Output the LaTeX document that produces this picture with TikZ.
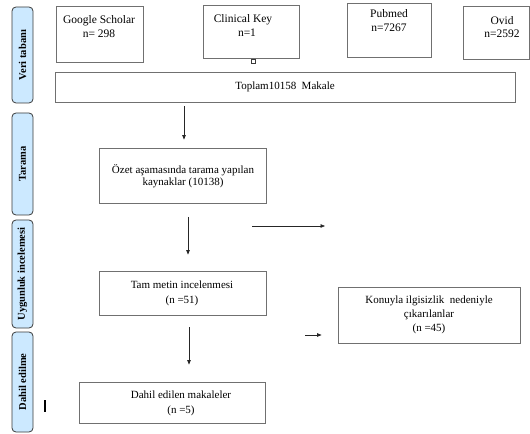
\documentclass[tikz,border=0pt]{standalone}
\usepackage{fontspec}
\setmainfont{Liberation Serif}
\usetikzlibrary{arrows.meta}
\definecolor{boxgray}{HTML}{707070}
\definecolor{sidegray}{HTML}{3A3A3A}
\definecolor{sideblue}{HTML}{CCE9FF}
\begin{document}
\begin{tikzpicture}[x=1bp,y=-1bp,
 box/.style={draw=boxgray, line width=0.8bp, inner sep=0pt},
 side/.style={draw=sidegray, fill=sideblue, rounded corners=4bp, line width=0.8bp, inner sep=0pt, rotate=90, minimum height=21bp, font=\fontsize{10.5bp}{12bp}\selectfont\bfseries},
 txt/.style={align=center, inner sep=0pt},
 arr/.style={draw=black!85, line width=0.7bp, -{Triangle[length=4.5bp,width=3.5bp]}}]
\useasboundingbox (0,0) rectangle (530,434);
% side bars
\node[side, minimum width=96bp] (s1) at (22.5,55) {Veri tabanı};
\node[side, minimum width=102bp] (s2) at (22.5,164) {Tarama};
\node[side, minimum width=108bp] (s3) at (22.5,274) {Uygunluk incelemesi};
\node[side, minimum width=100bp] (s4) at (22.5,382) {Dahil edilme};
% boxes
\node[box, minimum width=87bp, minimum height=56bp] (gs) at (99.5,34) {};
\node[box, minimum width=96bp, minimum height=53bp] (ck) at (251,31.5) {};
\node[box, minimum width=84bp, minimum height=54bp] (pm) at (389,30) {};
\node[box, minimum width=66.5bp, minimum height=53bp] (ov) at (496.25,32.5) {};
\node[box, minimum width=460bp, minimum height=30bp, font=\fontsize{11bp}{13bp}\selectfont] (toplam) at (285,87) {Toplam10158 \ Makale};
\node[box, minimum width=167bp, minimum height=55bp] (ozet) at (182.5,175.5) {};
\node[box, minimum width=167bp, minimum height=44bp] (tam) at (182.5,293) {};
\node[box, minimum width=186bp, minimum height=41bp] (dahil) at (172,402.5) {};
\node[box, minimum width=182bp, minimum height=56bp] (kon) at (429,315) {};
\node[draw=sidegray, line width=0.5bp, minimum size=3.5bp, inner sep=0pt] (sq) at (253,61.5) {};
% texts
\node[txt, font=\fontsize{11.5bp}{13.5bp}\selectfont] (gst) at (99,26.5) {Google Scholar\\n= 298};
\node[txt, font=\fontsize{11.5bp}{14bp}\selectfont] (ckt) at (243,26) {Clinical Key\\\hspace*{8bp}n=1};
\node[txt, font=\fontsize{11.5bp}{14bp}\selectfont] (pmt) at (389,21) {Pubmed\\n=7267};
\node[txt, font=\fontsize{11.5bp}{13.5bp}\selectfont] (ovt) at (502,27) {Ovid\\n=2592};
\node[txt, font=\fontsize{11bp}{12bp}\selectfont] (ozt) at (183,176) {Özet aşamasında tarama yapılan\\kaynaklar (10138)};
\node[txt, font=\fontsize{11bp}{15bp}\selectfont] (tamt) at (182,293) {Tam metin incelenmesi\\(n =51)};
\node[txt, font=\fontsize{11bp}{15bp}\selectfont] (dahilt) at (181,403) {Dahil edilen makaleler\\(n =5)};
\node[txt, font=\fontsize{11bp}{14bp}\selectfont] (kont) at (429,314.5) {Konuyla ilgisizlik \ nedeniyle\\çıkarılanlar\\(n =45)};
% connectors
\coordinate (a1x) at (184,0);
\coordinate (a2x) at (188,0);
\coordinate (a4x) at (189,0);
\draw[arr, shorten <=4bp, shorten >=8bp] (toplam.south -| a1x) -- (ozet.north -| a1x);
\coordinate (a2s) at (188,217);
\draw[arr, shorten >=16bp] (a2s) -- (tam.north -| a2x);
\coordinate (a3s) at (252,226);
\coordinate (a3e) at (325,226);
\draw[arr] (a3s) -- (a3e);
\draw[arr, shorten <=12bp, shorten >=17bp] (tam.south -| a4x) -- (dahil.north -| a4x);
\coordinate (a5s) at (305,335);
\draw[arr, shorten >=16bp] (a5s) -- (a5s -| kon.west);
\coordinate (bar1) at (45,400);
\coordinate (bar2) at (45,412);
\draw[line width=1.2bp] (bar1) -- (bar2);
\end{tikzpicture}
\end{document}
